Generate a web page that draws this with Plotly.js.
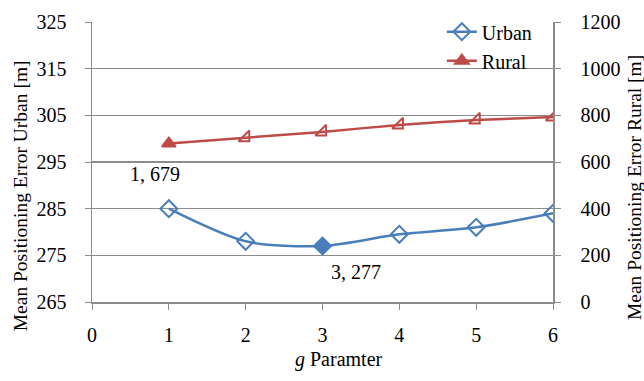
<!DOCTYPE html>
<html><head><meta charset="utf-8">
<script src="https://cdn.plot.ly/plotly-3.0.1.min.js"></script>
<style>html,body{margin:0;padding:0;background:#fff}#chart{width:644px;height:381px}</style>
</head><body><div id="chart"></div>
<script>
const gValues = [1, 2, 3, 4, 5, 6];
const urbanError = [285, 278, 277, 279.5, 281, 284];
const ruralError = [679, 704, 729, 759, 780, 793];
const leftTicks = [265, 275, 285, 295, 305, 315, 325];
const rightTicks = [0, 200, 400, 600, 800, 1000, 1200];
const xTicks = [0, 1, 2, 3, 4, 5, 6];
const urbanLabelIndex = 2;
const ruralLabelIndex = 0;

const blue = '#4A7EBB', red = '#BE4B48', grid = '#8C8C8C';
const font = 'Times New Roman';

const urbanSymbols = gValues.map((_, i) => i === urbanLabelIndex ? 'diamond' : 'diamond-open');
const ruralSymbols = gValues.map((_, i) => i === ruralLabelIndex ? 'triangle-up' : 'triangle-se-open');

const traces = [
  {x: gValues, y: urbanError, name: 'Urban', type: 'scatter', mode: 'lines+markers',
   line: {color: blue, width: 2.5, shape: 'spline', smoothing: 0.8},
   marker: {symbol: urbanSymbols, size: 13, color: blue, line: {color: blue, width: 2}}},
  {x: gValues, y: ruralError, name: 'Rural', type: 'scatter', mode: 'lines+markers', yaxis: 'y2',
   line: {color: red, width: 2.5, shape: 'spline', smoothing: 0.5},
   marker: {symbol: ruralSymbols, size: 12, color: red, line: {color: red, width: 2}}}
];

const layout = {
  width: 644, height: 381,
  margin: {l: 92, r: 91, t: 19, b: 79},
  paper_bgcolor: '#fff', plot_bgcolor: '#fff',
  font: {family: font, size: 20, color: '#000'},
  showlegend: true,
  legend: {x: 0.965, xanchor: 'right', y: 1.035, yanchor: 'top', bgcolor: 'rgba(255,255,255,0)',
           font: {family: font, size: 20}, tracegroupgap: 0},
  xaxis: {range: [0, 6], tickvals: xTicks, showgrid: false, zeroline: false,
          showline: true, linecolor: grid, linewidth: 1.5, ticks: 'outside', ticklen: 6, tickcolor: grid,
          tickfont: {family: font, size: 20}, ticklabelstandoff: 8},
  yaxis: {range: [265, 325], tickvals: leftTicks, showgrid: true, gridcolor: grid, gridwidth: 1.5, zeroline: false,
          showline: true, linecolor: grid, linewidth: 1.5, ticks: 'outside', ticklen: 6, tickcolor: grid,
          tickfont: {family: font, size: 20}, ticklabelstandoff: 14},
  yaxis2: {range: [0, 1200], tickvals: rightTicks, overlaying: 'y', side: 'right', showgrid: false, zeroline: false,
           showline: true, linecolor: grid, linewidth: 1.5, ticks: 'outside', ticklen: 6, tickcolor: grid,
           tickfont: {family: font, size: 20}, ticklabelstandoff: 16},
  annotations: [
    {x: gValues[ruralLabelIndex], y: ruralError[ruralLabelIndex], xref: 'x', yref: 'y2',
     text: gValues[ruralLabelIndex] + ', ' + ruralError[ruralLabelIndex], showarrow: false,
     yshift: -30, xshift: -14, font: {family: font, size: 20}},
    {x: gValues[urbanLabelIndex], y: urbanError[urbanLabelIndex], xref: 'x', yref: 'y',
     text: gValues[urbanLabelIndex] + ', ' + urbanError[urbanLabelIndex], showarrow: false,
     yshift: -26, xshift: 33, font: {family: font, size: 20}},
    {x: 0.536, y: 0, xref: 'paper', yref: 'paper', yanchor: 'top', yshift: -44,
     text: '<i>g</i> Paramter', showarrow: false, font: {family: font, size: 20}},
    {x: -0.156, y: 0.378, xref: 'paper', yref: 'paper', xanchor: 'center', yanchor: 'middle',
     textangle: -90, text: 'Mean Positioning Error Urban [m]', showarrow: false, font: {family: font, size: 19.5}},
    {x: 1.1755, y: 0.41, xref: 'paper', yref: 'paper', xanchor: 'center', yanchor: 'middle',
     textangle: -90, text: 'Mean Positioning Error Rural [m]', showarrow: false, font: {family: font, size: 19.5}}
  ]
};
Plotly.newPlot('chart', traces, layout, {displayModeBar: false, staticPlot: true});
</script></body></html>
